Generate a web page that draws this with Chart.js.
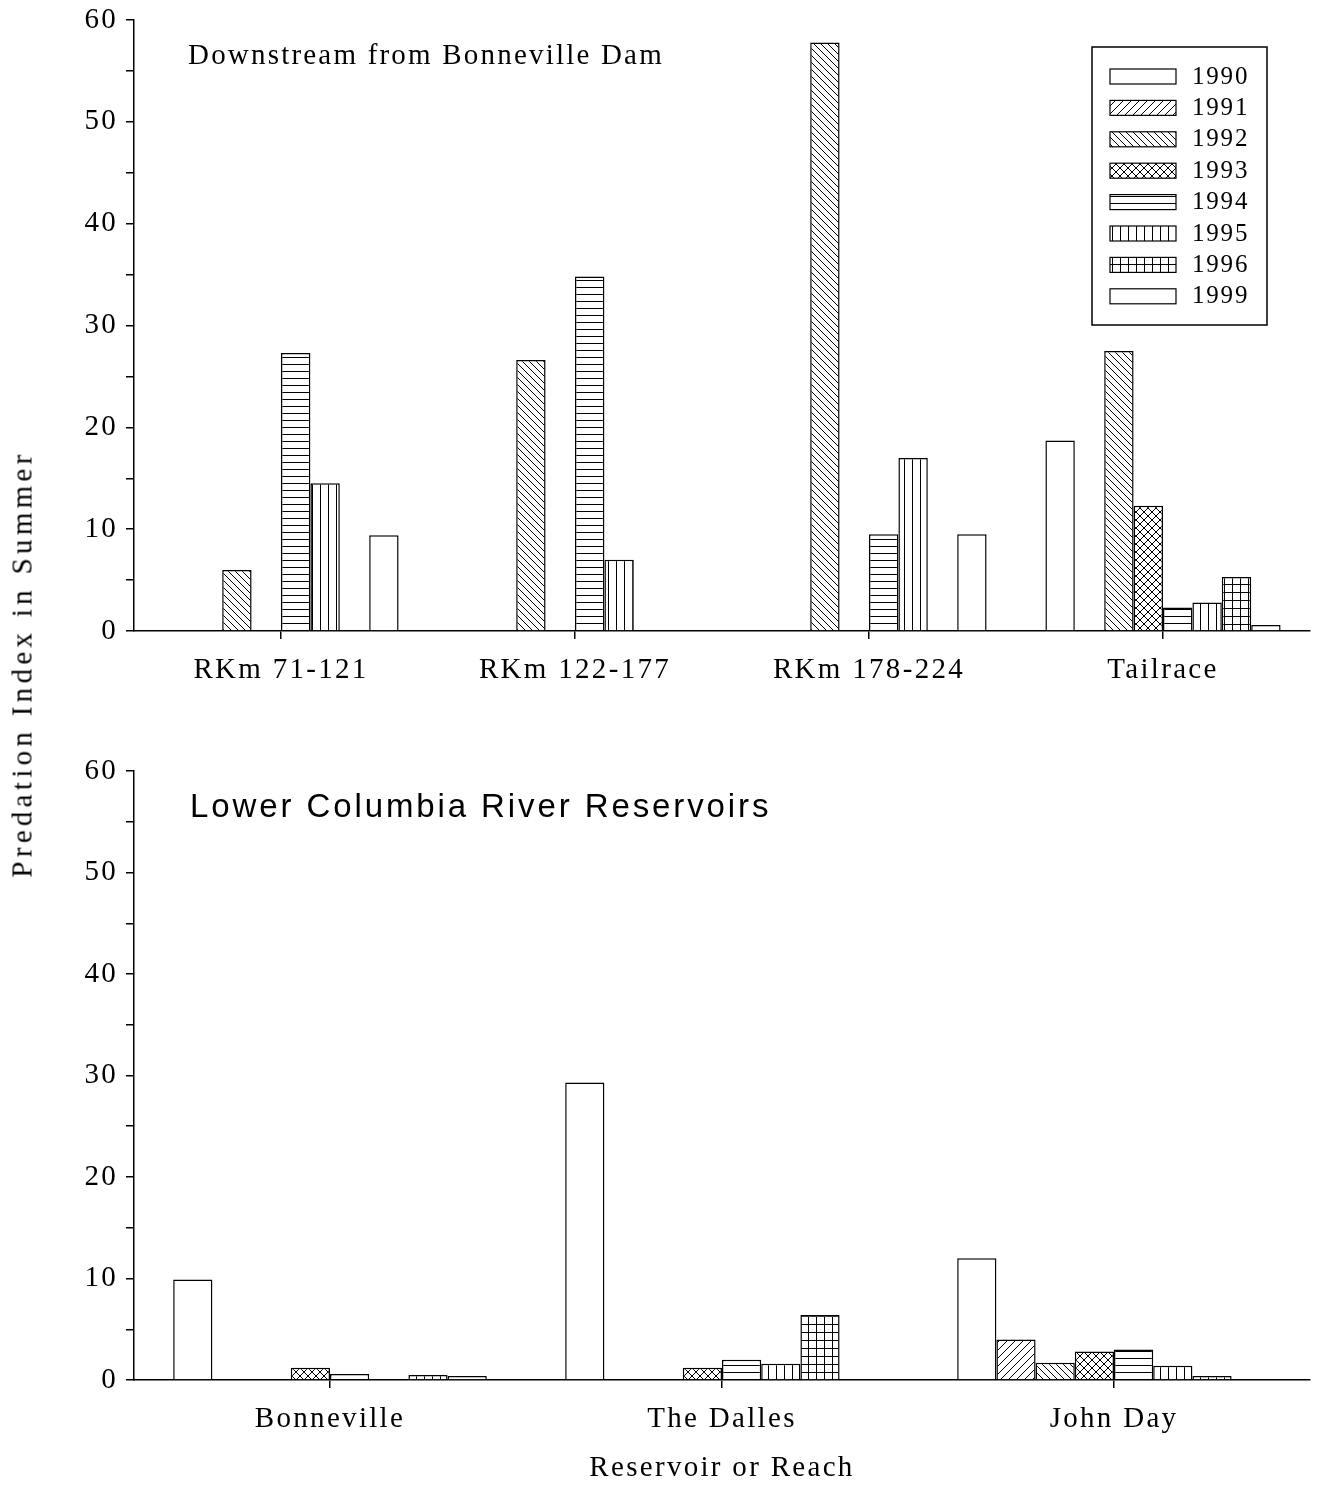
<!DOCTYPE html>
<html>
<head>
<meta charset="utf-8">
<script src="https://cdn.jsdelivr.net/npm/chart.js@4.4.0/dist/chart.umd.min.js"></script>
<style>
  html, body { margin: 0; padding: 0; background: #fff; }
  #page { position: relative; width: 1317px; height: 1486px; }
  #topChart { position: absolute; left: 0; top: 0; }
  #bottomChart { position: absolute; left: 0; top: 700px; }
  #yTitle {
    position: absolute; left: 22px; top: 664px;
    transform: translate(-50%, -50%) rotate(-90deg);
    font: 29px "Liberation Serif", "Times New Roman", serif;
    letter-spacing: 4.3px; white-space: nowrap; color: #000;
  }
</style>
</head>
<body>
<div id="page">
  <canvas id="topChart" width="1317" height="700"></canvas>
  <canvas id="bottomChart" width="1317" height="786"></canvas>
  <div id="yTitle">Predation Index in Summer</div>
</div>
<script>
// years (one bar per year in each group)
const years = ['1990', '1991', '1992', '1993', '1994', '1995', '1996', '1999'];

// top panel: downstream from Bonneville Dam
const reachLabels = ['RKm 71-121', 'RKm 122-177', 'RKm 178-224', 'Tailrace'];
const reach1990 = [null, null, null, 18.7];
const reach1991 = [null, null, null, null];
const reach1992 = [6.0, 26.6, 57.8, 27.5];
const reach1993 = [null, null, null, 12.3];
const reach1994 = [27.3, 34.8, 9.5, 2.3];
const reach1995 = [14.5, 7.0, 17.0, 2.8];
const reach1996 = [null, null, null, 5.3];
const reach1999 = [9.4, null, 9.5, 0.6];

// bottom panel: lower Columbia River reservoirs
const reservoirLabels = ['Bonneville', 'The Dalles', 'John Day'];
const res1990 = [9.9, 29.3, 12.0];
const res1991 = [null, null, 4.0];
const res1992 = [null, null, 1.7];
const res1993 = [1.2, 1.2, 2.8];
const res1994 = [0.6, 2.0, 3.0];
const res1995 = [null, 1.6, 1.4];
const res1996 = [0.5, 6.4, 0.4];
const res1999 = [0.4, null, null];

const yTicks = [0, 10, 20, 30, 40, 50, 60];

const serif = '"Liberation Serif", "Times New Roman", serif';
const hatch = ['plain', 'fdiag', 'bdiag', 'cross', 'horiz', 'vert', 'grid', 'plain'];

function makePattern(kind) {
  if (kind === 'plain') return '#fff';
  const s = { fdiag: 8, bdiag: 7, cross: 8, horiz: 7, vert: 8, grid: 8 }[kind];
  const c = document.createElement('canvas');
  c.width = s; c.height = s;
  const g = c.getContext('2d');
  g.fillStyle = '#fff';
  g.fillRect(0, 0, s, s);
  g.fillStyle = '#000';
  g.strokeStyle = '#000';
  g.lineWidth = 1;
  if (kind === 'horiz' || kind === 'grid') g.fillRect(0, 0, s, 1);
  if (kind === 'vert' || kind === 'grid') g.fillRect(0, 0, 1, s);
  if (kind === 'fdiag' || kind === 'cross') {
    g.beginPath();
    g.moveTo(-1, s + 1); g.lineTo(s + 1, -1);
    g.moveTo(-1, 1); g.lineTo(1, -1);
    g.moveTo(s - 1, s + 1); g.lineTo(s + 1, s - 1);
    g.stroke();
  }
  if (kind === 'bdiag' || kind === 'cross') {
    g.beginPath();
    g.moveTo(-1, -1); g.lineTo(s + 1, s + 1);
    g.moveTo(s - 1, -1); g.lineTo(s + 1, 1);
    g.moveTo(-1, s - 1); g.lineTo(1, s + 1);
    g.stroke();
  }
  return g.createPattern(c, 'repeat');
}

function buildDatasets(series) {
  return years.map((yr, i) => ({
    label: yr,
    data: series[i],
    backgroundColor: makePattern(hatch[i]),
    borderColor: '#000',
    borderWidth: 1.5,
    categoryPercentage: 0.8,
    barPercentage: 1.0
  }));
}

function yScale() {
  return {
    min: 0, max: 60,
    ticks: {
      stepSize: 5, padding: 8, color: '#000', autoSkip: false,
      font: { family: serif, size: 29 },
      callback: v => yTicks.includes(v) ? v : ''
    },
    grid: { drawOnChartArea: false, color: '#000', lineWidth: 1.5, tickLength: 8 },
    border: { color: '#000', width: 1.5 },
    afterFit: s => { s.width = 134; s.paddingTop = 0; s.paddingBottom = 0; }
  };
}

function xScale(height, title) {
  return {
    ticks: { padding: 14, color: '#000', maxRotation: 0, autoSkip: false, font: { family: serif, size: 29 } },
    grid: { offset: false, drawOnChartArea: false, color: '#000', lineWidth: 1.5, tickLength: 8 },
    border: { color: '#000', width: 1.5 },
    title: title ? { display: true, text: title, color: '#000', padding: 0, font: { family: serif, size: 29 } } : { display: false },
    afterFit: s => { s.height = height; }
  };
}

// wide letter spacing like the original figure
const spacing = {
  id: 'spacing',
  beforeDraw(chart) { chart.ctx.letterSpacing = '2.3px'; }
};

const panelTitle = {
  id: 'panelTitle',
  afterDraw(chart, args, opts) {
    const ctx = chart.ctx;
    ctx.save();
    ctx.font = opts.font;
    ctx.letterSpacing = opts.spacing;
    ctx.fillStyle = '#000';
    ctx.textAlign = 'left';
    ctx.textBaseline = 'middle';
    ctx.fillText(opts.text, opts.x, opts.y);
    ctx.restore();
  }
};

const legendBox = {
  id: 'legendBox',
  afterDraw(chart) {
    const ctx = chart.ctx;
    ctx.save();
    ctx.fillStyle = '#fff';
    ctx.fillRect(1092, 47, 175, 278);
    ctx.strokeStyle = '#000';
    ctx.lineWidth = 1.5;
    ctx.strokeRect(1092, 47, 175, 278);
    ctx.font = '25px ' + serif;
    ctx.letterSpacing = '1.8px';
    ctx.textBaseline = 'middle';
    ctx.textAlign = 'left';
    chart.data.datasets.forEach((ds, i) => {
      const y = 69 + i * 31.4;
      ctx.fillStyle = ds.backgroundColor;
      ctx.fillRect(1110, y, 66, 15);
      ctx.lineWidth = 1.2;
      ctx.strokeRect(1110, y, 66, 15);
      ctx.fillStyle = '#000';
      ctx.fillText(ds.label, 1192, y + 8);
    });
    ctx.restore();
  }
};

new Chart(document.getElementById('topChart'), {
  type: 'bar',
  data: {
    labels: reachLabels,
    datasets: buildDatasets([reach1990, reach1991, reach1992, reach1993, reach1994, reach1995, reach1996, reach1999])
  },
  options: {
    responsive: false,
    animation: false,
    layout: { padding: { left: 0, right: 7, top: 20, bottom: 0 } },
    scales: { x: xScale(69), y: yScale() },
    plugins: {
      legend: { display: false },
      tooltip: { enabled: false },
      panelTitle: { text: 'Downstream from Bonneville Dam', font: '29px ' + serif, spacing: '2.2px', x: 188, y: 56 }
    }
  },
  plugins: [spacing, panelTitle, legendBox]
});

new Chart(document.getElementById('bottomChart'), {
  type: 'bar',
  data: {
    labels: reservoirLabels,
    datasets: buildDatasets([res1990, res1991, res1992, res1993, res1994, res1995, res1996, res1999])
  },
  options: {
    responsive: false,
    animation: false,
    layout: { padding: { left: 0, right: 7, top: 71, bottom: 0 } },
    scales: { x: xScale(106, 'Reservoir or Reach'), y: yScale() },
    plugins: {
      legend: { display: false },
      tooltip: { enabled: false },
      panelTitle: { text: 'Lower Columbia River Reservoirs', font: '33px "Liberation Sans", Arial, sans-serif', spacing: '2.9px', x: 190, y: 108 }
    }
  },
  plugins: [spacing, panelTitle]
});
</script>
</body>
</html>
